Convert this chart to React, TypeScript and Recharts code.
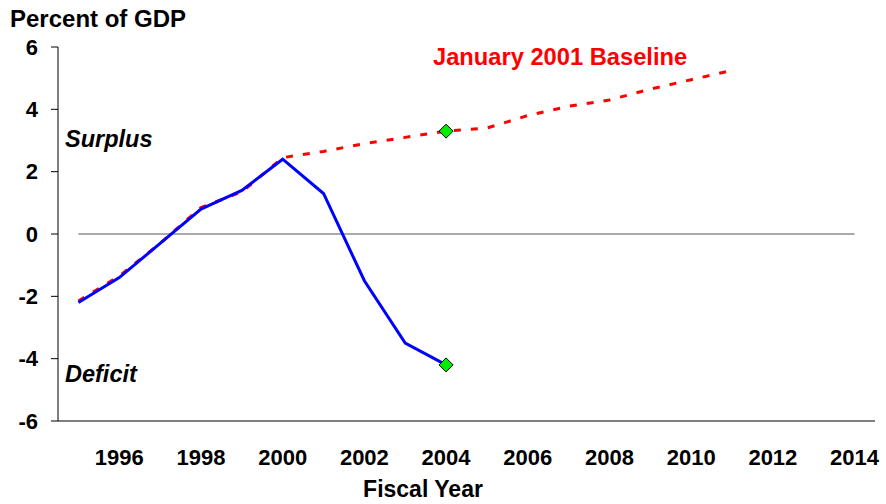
import {
  ComposedChart,
  Line,
  Scatter,
  XAxis,
  YAxis,
  ReferenceLine,
} from "recharts";

const years = [
  1995, 1996, 1997, 1998, 1999, 2000, 2001, 2002, 2003, 2004, 2005, 2006,
  2007, 2008, 2009, 2010, 2011, 2012, 2013, 2014,
];
// actual surplus / deficit, 1995-2004
const actual = [-2.2, -1.4, -0.3, 0.8, 1.4, 2.4, 1.3, -1.5, -3.5, -4.2];
// January 2001 baseline, 1995-2011
const baseline = [
  -2.15, -1.35, -0.3, 0.85, 1.35, 2.45, 2.65, 2.9, 3.1, 3.3, 3.4, 3.8, 4.1,
  4.3, 4.65, 4.95, 5.25,
];
const markerYears = [2004, 2004];
const markerValues = [3.3, -4.2];

const yearLabels = [1996, 1998, 2000, 2002, 2004, 2006, 2008, 2010, 2012, 2014];
const yTicks = [-6, -4, -2, 0, 2, 4, 6];

const data = years.map((year, i) => ({
  year,
  actual: i < actual.length ? actual[i] : null,
  baseline: i < baseline.length ? baseline[i] : null,
}));
const markers = markerYears.map((year, i) => ({ year, value: markerValues[i] }));
const bandEdges = [...years.map((y) => y - 0.5), years[years.length - 1] + 0.5];

const font = '"Liberation Sans", Arial, sans-serif';
const tickStyle = { fill: "#000", fontSize: 22, fontWeight: 700, fontFamily: font };

const Diamond = (props: any) => {
  const { cx, cy } = props;
  const r = 7;
  return (
    <polygon
      points={`${cx},${cy - r} ${cx + r},${cy} ${cx},${cy + r} ${cx - r},${cy}`}
      fill="#00EE00"
      stroke="#000"
      strokeWidth={1}
    />
  );
};

export default function App() {
  return (
    <div style={{ position: "absolute", left: 0, top: 0, width: 886, height: 504, background: "#fff" }}>
      <ComposedChart
        width={886}
        height={504}
        data={data}
        margin={{ top: 47, right: 11, left: 0, bottom: 0 }}
      >
        {/* band edges: tick marks between the years */}
        <XAxis
          xAxisId={0}
          type="number"
          dataKey="year"
          domain={[1994.5, 2014.5]}
          ticks={bandEdges}
          interval={0}
          height={1}
          tick={false}
          tickSize={7}
          axisLine={{ stroke: "#000" }}
          tickLine={{ stroke: "#000" }}
        />
        {/* year labels at band centres */}
        <XAxis
          xAxisId="labels"
          type="number"
          dataKey="year"
          domain={[1994.5, 2014.5]}
          ticks={yearLabels}
          interval={0}
          height={82}
          axisLine={false}
          tickLine={false}
          tickSize={0}
          tickMargin={27}
          tick={tickStyle}
        />
        <YAxis
          type="number"
          domain={[-6, 6]}
          ticks={yTicks}
          interval={0}
          width={58}
          tickSize={7}
          tickMargin={13}
          axisLine={{ stroke: "#000" }}
          tickLine={{ stroke: "#000" }}
          tick={tickStyle}
        />
        <ReferenceLine
          segment={[
            { x: 1995, y: 0 },
            { x: 2014, y: 0 },
          ]}
          stroke="#555"
          strokeWidth={1}
        />
        <Line
          dataKey="baseline"
          stroke="#FF0000"
          strokeWidth={3}
          strokeDasharray="7 10"
          dot={false}
          type="linear"
          isAnimationActive={false}
        />
        <Line
          dataKey="actual"
          stroke="#0000FF"
          strokeWidth={3}
          dot={false}
          type="linear"
          isAnimationActive={false}
        />
        <Scatter
          data={markers}
          dataKey="value"
          shape={Diamond}
          isAnimationActive={false}
        />
      </ComposedChart>
      <svg
        width={886}
        height={504}
        style={{ position: "absolute", left: 0, top: 0, pointerEvents: "none" }}
        fontFamily={font}
        fontWeight={700}
        fontSize={23}
      >
        <text x={10} y={27} fill="#000" fontSize={24}>Percent of GDP</text>
        <text x={65} y={147} fill="#000" fontStyle="italic" fontSize={23.5}>Surplus</text>
        <text x={65} y={382} fill="#000" fontStyle="italic" fontSize={23.5}>Deficit</text>
        <text x={433} y={65} fill="#FF0000" fontSize={23.7}>January 2001 Baseline</text>
        <text x={423} y={497} fill="#000" textAnchor="middle">Fiscal Year</text>
      </svg>
    </div>
  );
}
